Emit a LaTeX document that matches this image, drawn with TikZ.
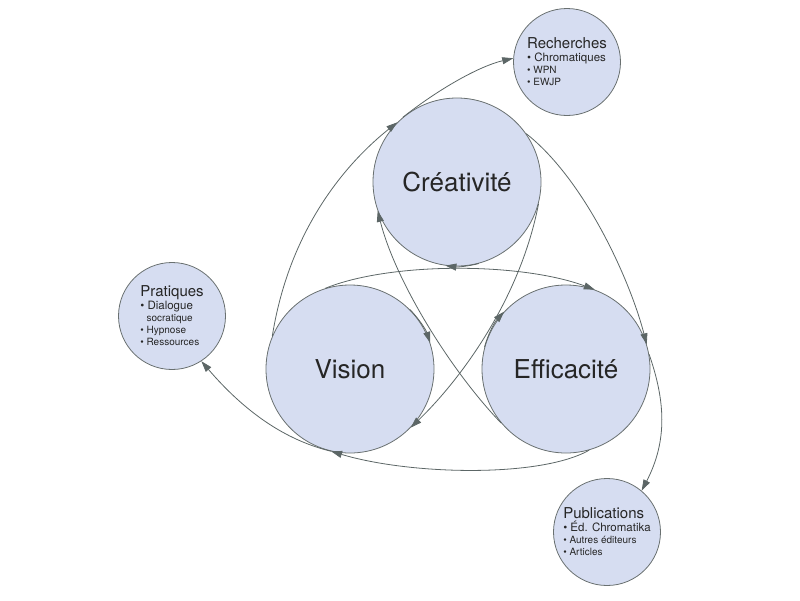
\documentclass[tikz,border=0pt]{standalone}
\usepackage{fontspec}
\setmainfont{TeX Gyre Heros}
\usetikzlibrary{arrows.meta}
\definecolor{disc}{RGB}{214,221,241}
\definecolor{rim}{RGB}{105,112,112}
\definecolor{conn}{RGB}{92,102,102}
\tikzset{>={Triangle[length=11pt,width=7pt]}}
\tikzset{
  % big and small discs
  bigdisc/.style={circle, fill=disc, draw=rim, line width=0.8pt, minimum size=168pt, inner sep=0pt, font=\fontsize{26}{26}\selectfont, text=black!85},
  smalldisc/.style={circle, fill=disc, draw=rim, line width=0.8pt, minimum size=107pt, inner sep=0pt, align=left, text=black!85},
  link/.style={draw=conn, line width=0.8pt, ->},
}
\newcommand{\disclist}[2]{\fontsize{15}{17}\selectfont #1\\[1pt]\fontsize{11.5}{14}\selectfont #2}
\begin{document}
\begin{tikzpicture}[x=1pt,y=-1pt]
    \useasboundingbox (0,0) rectangle (800,600);

    \node[bigdisc] (cre) at (457,182) {Créativité};
    \node[bigdisc] (vis) at (350,369) {Vision};
    \node[bigdisc] (eff) at (566,369) {Efficacité};

    \node[smalldisc] (rec) at (567,62) {\disclist{Recherches}{\textbullet\ Chromatiques\\ \textbullet\ WPN\\ \textbullet\ EWJP}};
    \node[smalldisc] (pra) at (172,316) {\disclist{Pratiques}{\textbullet\ Dialogue\\ \phantom{\textbullet\ }socratique\\ \textbullet\ Hypnose\\ \textbullet\ Ressources}};
    \node[smalldisc] (pub) at (607,532) {\disclist{Publications}{\textbullet\ Éd. Chromatika\\ \textbullet\ Autres éditeurs\\ \textbullet\ Articles}};

    % outer loops
    \draw[link] (vis.157) .. controls (290,225) and (350,160) .. (cre.135);
    \draw[link] (cre.130) .. controls (440,88) and (480,66) .. (rec.176);
    \draw[link] (cre.35) .. controls (585,180) and (630,280) .. (eff.17);
    \draw[link] (eff.10) .. controls (665,400) and (668,440) .. (pub.50);
    \draw[link] (eff.-74) .. controls (540,478) and (410,475) .. (vis.-103);
    \draw[link] (vis.-103) .. controls (285,440) and (245,412) .. (pra.-57);

    % inner links
    \draw[link] (vis.107) .. controls (390,262) and (520,262) .. (eff.70);
    \draw[link] (cre.-15) .. controls (520,300) and (460,380) .. (vis.-44);
    \draw[link] (eff.220) .. controls (450,370) and (395,280) .. (cre.200);

    % arrows on the rims
    \draw[link] (cre.-75) arc[start angle=-75, end angle=-98, radius=84pt];
    \draw[link] (vis.45) arc[start angle=45, end angle=18, radius=84pt];
    \draw[link] (eff.165) arc[start angle=165, end angle=137, radius=84pt];
\end{tikzpicture}
\end{document}
